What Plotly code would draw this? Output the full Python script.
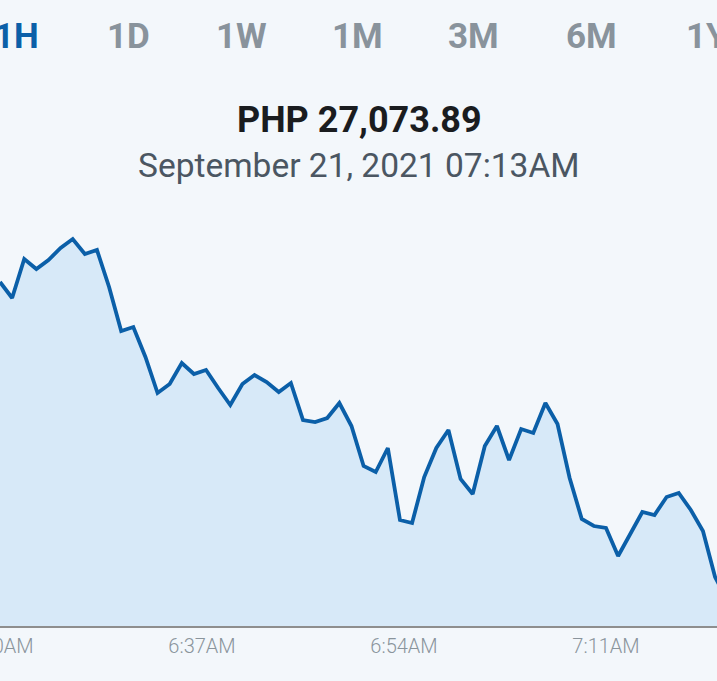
import plotly.graph_objects as go

# --- data ---
period_tabs = ["1H", "1D", "1W", "1M", "3M", "6M", "1Y"]
active_tab = "1H"
price_label = "PHP 27,073.89"
date_label = "September 21, 2021 07:13AM"

minute_index = list(range(61))
prices = [
    27392, 27376, 27415, 27405, 27414, 27426, 27435, 27420, 27424, 27387,
    27343, 27347, 27317, 27281, 27290, 27311, 27300, 27304, 27286, 27269,
    27290, 27299, 27292, 27282, 27291, 27254, 27252, 27256, 27271, 27248,
    27208, 27202, 27226, 27154, 27151, 27197, 27226, 27244, 27195, 27180,
    27228, 27248, 27214, 27245, 27241, 27271, 27250, 27196, 27155, 27148,
    27146, 27118, 27140, 27162, 27159, 27177, 27181, 27164, 27143, 27097,
    27073.89,
]
tick_positions = [0, 50 / 3, 100 / 3, 50]
tick_labels = ["6:20AM", "6:37AM", "6:54AM", "7:11AM"]

BG = "#f3f7fb"
LINE = "#0b5fa8"
FILL = "#d7e9f8"

fig = go.Figure()
fig.add_trace(go.Scatter(
    x=minute_index, y=prices, mode="lines",
    line=dict(color=LINE, width=3.8),
    fill="tozeroy", fillcolor=FILL,
    hoverinfo="skip",
))

W, H = 717, 681
T, B = 200, 55
ph = H - T - B

def py(pix):
    return (H - B - pix) / ph

ann = []
tab_centers = [16, 128, 241, 357, 473, 591, 707]
for lbl, cx in zip(period_tabs, tab_centers):
    ann.append(dict(
        text=lbl, x=cx / W, y=py(37), xref="paper", yref="paper",
        xanchor="center", yanchor="middle", showarrow=False,
        font=dict(family="Roboto", size=35, weight=700,
                  color=LINE if lbl == active_tab else "#89939c"),
    ))
ann.append(dict(
    text=price_label, x=359 / W, y=py(120), xref="paper", yref="paper",
    xanchor="center", yanchor="middle", showarrow=False,
    font=dict(family="Roboto", size=36, weight=700, color="#1a1c1f"),
))
ann.append(dict(
    text=date_label, x=359 / W, y=py(165), xref="paper", yref="paper",
    xanchor="center", yanchor="middle", showarrow=False,
    font=dict(family="Roboto", size=33.5, color="#4b5662"),
))

fig.update_layout(
    width=W, height=H,
    margin=dict(l=0, r=0, t=T, b=B, autoexpand=False),
    paper_bgcolor=BG, plot_bgcolor=BG,
    showlegend=False,
    annotations=ann,
    xaxis=dict(
        range=[0, 717 / 12.12], showgrid=False, zeroline=False,
        tickmode="array", tickvals=tick_positions, ticktext=tick_labels,
        ticks="", showline=True, linecolor="#8e8e8e", linewidth=1.5,
        tickfont=dict(family="Roboto", size=20, weight=300, color="#8a949c"),
        ticklabeloverflow="allow", automargin=False,
        ticklabelstandoff=1,
    ),
    yaxis=dict(
        range=[27048, 27048 + ph], showgrid=False, zeroline=False,
        showticklabels=False, ticks="", showline=False, automargin=False,
    ),
)

fig.write_html(
    "out.html",
    config={"displayModeBar": False, "staticPlot": True},
    post_script="document.body.style.margin='0';document.body.style.background='" + BG + "';",
)
